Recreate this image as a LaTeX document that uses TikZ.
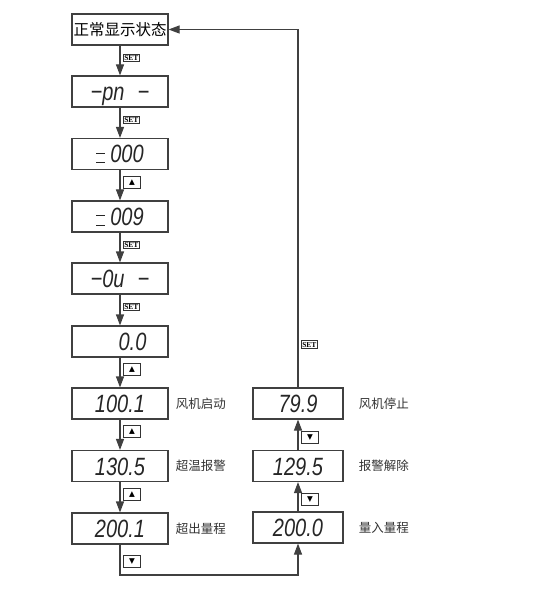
\documentclass[tikz,border=0pt]{standalone}
\usepackage{fontspec}
\newfontfamily\cjk{Noto Sans CJK SC}
\newfontfamily\lcdfont[FakeStretch=0.8]{Liberation Sans}
\newfontfamily\keyfont{Liberation Serif}
\newfontfamily\symfont{DejaVu Sans}
\usetikzlibrary{arrows.meta,positioning}
% two low bars, as the display shows them
\newcommand{\lowbars}{\rlap{\raisebox{9.5pt}{\rule{9pt}{0.9pt}}}\rule{9pt}{0.9pt}}

\begin{document}
\begin{tikzpicture}[x=1pt,y=-1pt,
    box/.style={draw=black!75,line width=1.1pt,minimum width=96pt,minimum height=31pt,inner sep=1pt},
    lcd/.style={box,font=\lcdfont\itshape\fontsize{25}{25}\selectfont,text=black!85,text height=18pt,text depth=0pt},
    rbox/.style={lcd,minimum width=90pt},
    key/.style={draw=black!80,line width=0.7pt,inner sep=0.9pt,font=\keyfont\bfseries\fontsize{7.5}{7.5}\selectfont,text height=5.5pt,text depth=0pt},
    tri/.style={draw=black!80,line width=0.8pt,minimum width=17pt,minimum height=12pt,inner sep=0pt,font=\symfont\fontsize{7.5}{7.5}\selectfont},
    flow/.style={draw=black!75,line width=1.1pt,-{Triangle[length=11pt,width=8pt]}},
    lbl/.style={font=\cjk\fontsize{12.5}{12.5}\selectfont,text=black!80,inner sep=0pt}]
    \useasboundingbox (0,0) rectangle (536,593);

    % left column
    \node[box,font=\cjk\fontsize{15.5}{15.5}\selectfont] (normal) at (120,29.5) {正常显示状态};
    \node[lcd] (pn) at (120,91.5) {−pn\hspace{13pt}−};
    \node[lcd] (s000) at (120,154) {\lowbars\hspace{5pt}000\hspace{24pt}};
    \node[lcd] (s009) at (120,216.5) {\lowbars\hspace{5pt}009\hspace{24pt}};
    \node[lcd] (ou) at (120,278.5) {−0u\hspace{13pt}−};
    \node[lcd] (zero) at (120,341.5) {\hspace{25pt}0.0};
    \node[lcd] (b1001) at (120,403.5) {100.1\hspace{12pt}};
    \node[lcd] (b1305) at (120,466) {130.5\hspace{12pt}};
    \node[lcd] (b2001) at (120,528.5) {200.1\hspace{12pt}};

    % right column
    \node[rbox] (b799) at (298,403.5) {79.9};
    \node[rbox] (b1295) at (298,466) {129.5\hspace{12pt}};
    \node[rbox] (b2000) at (298,527.5) {200.0\hspace{16pt}};

    % labels
    \node[lbl,right=7pt of b1001] (fanon) {风机启动};
    \node[lbl,right=7pt of b1305] (hot) {超温报警};
    \node[lbl,right=7pt of b2001] (over) {超出量程};
    \node[lbl,right=15pt of b799] (fanoff) {风机停止};
    \node[lbl,right=15pt of b1295] (clear) {报警解除};
    \node[lbl,right=15pt of b2000] (range) {量入量程};

    % arrows down
    \draw[flow] (normal) -- node[key,pos=0.4,right=3pt] (k1) {SET} (pn);
    \draw[flow] (pn) -- node[key,pos=0.4,right=3pt] (k2) {SET} (s000);
    \draw[flow] (s000) -- node[tri,pos=0.4,right=3pt] (k3) {▲} (s009);
    \draw[flow] (s009) -- node[key,pos=0.4,right=3pt] (k4) {SET} (ou);
    \draw[flow] (ou) -- node[key,pos=0.4,right=3pt] (k5) {SET} (zero);
    \draw[flow] (zero) -- node[tri,pos=0.4,right=3pt] (k6) {▲} (b1001);
    \draw[flow] (b1001) -- node[tri,pos=0.4,right=3pt] (k7) {▲} (b1305);
    \draw[flow] (b1305) -- node[tri,pos=0.4,right=3pt] (k8) {▲} (b2001);

    % back up
    \coordinate (bot) at (0,575);
    \draw[flow] (b2001.south) -- (b2001.south |- bot) node[tri,pos=0.55,right=3pt] (k9) {▼} -| (b2000.south);
    \draw[flow] (b2000) -- node[tri,pos=0.4,right=3pt] (k10) {▼} (b1295);
    \draw[flow] (b1295) -- node[tri,pos=0.4,right=3pt] (k11) {▼} (b799);
    \draw[flow] (b799.north) |- node[key,pos=0.06,right=3pt] (k12) {SET} (normal.east);
\end{tikzpicture}
\end{document}
